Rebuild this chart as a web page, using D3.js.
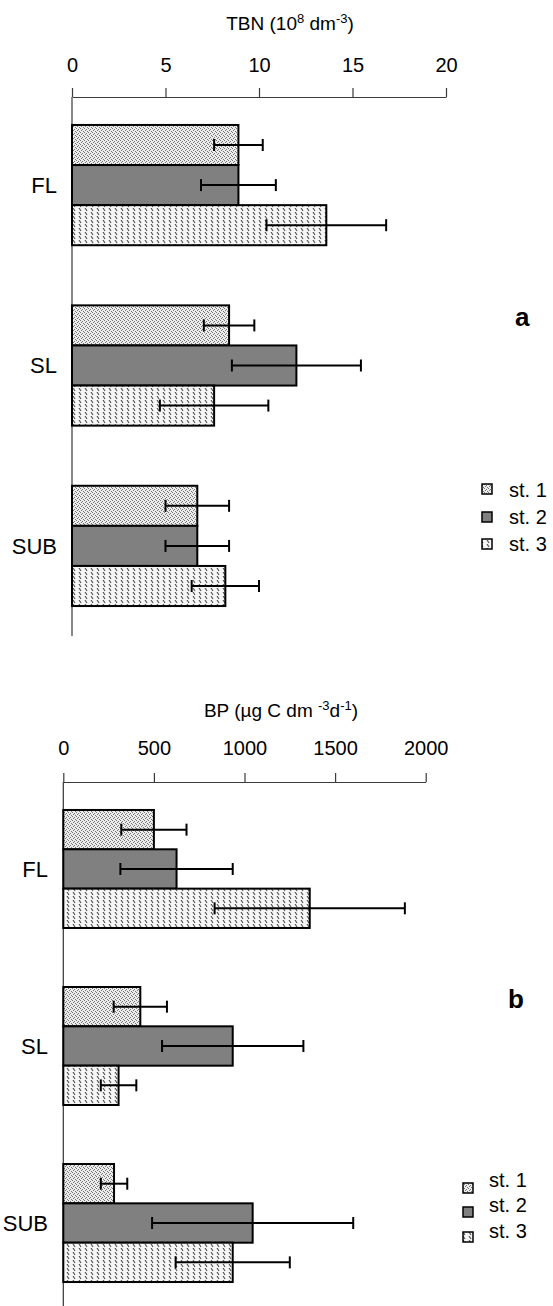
<!DOCTYPE html>
<html>
<head>
<meta charset="utf-8">
<script src="https://cdn.jsdelivr.net/npm/d3@7"></script>
<style>
  body { margin: 0; background: #fff; }
  svg { display: block; font-family: Arial, "Liberation Sans", sans-serif; }
</style>
</head>
<body>
<svg id="chart" width="553" height="1306"></svg>
<script>
// ---------- DATA ----------
const categories = ["FL", "SL", "SUB"];
const seriesNames = ["st. 1", "st. 2", "st. 3"];
const tbnTicks = [0, 5, 10, 15, 20];
const bpTicks = [0, 500, 1000, 1500, 2000];

// TBN (10^8 dm^-3), per station, in category order FL, SL, SUB
const tbnSt1 = [8.9, 8.4, 6.7];
const tbnSt2 = [8.9, 12.0, 6.7];
const tbnSt3 = [13.6, 7.6, 8.2];
const tbnErrSt1 = [1.3, 1.35, 1.7];
const tbnErrSt2 = [2.0, 3.45, 1.7];
const tbnErrSt3 = [3.2, 2.9, 1.8];

// BP (µg C dm^-3 d^-1)
const bpSt1 = [500, 425, 280];
const bpSt2 = [625, 935, 1045];
const bpSt3 = [1360, 305, 935];
const bpErrSt1 = [180, 147, 73];
const bpErrSt2 = [310, 390, 555];
const bpErrSt3 = [525, 98, 315];

// ---------- DRAW ----------
const svg = d3.select("#chart");
const defs = svg.append("defs");

// stipple pattern for st. 1
const p1 = defs.append("pattern").attr("id", "pat1").attr("patternUnits", "userSpaceOnUse")
  .attr("width", 4).attr("height", 4);
p1.append("rect").attr("width", 4).attr("height", 4).attr("fill", "#ececec");
[[0,0],[2,1],[1,2],[3,3]].forEach(([x,y]) =>
  p1.append("rect").attr("x", x).attr("y", y).attr("width", 1).attr("height", 1).attr("fill", "#777"));

// dashed vertical stripes for st. 3
const p3 = defs.append("pattern").attr("id", "pat3").attr("patternUnits", "userSpaceOnUse")
  .attr("width", 6).attr("height", 4);
p3.append("rect").attr("width", 6).attr("height", 4).attr("fill", "#f6f6f6");
p3.append("path").attr("d", "M1,0 L3,3").attr("stroke", "#555").attr("stroke-width", 1.2);

const fills = ["url(#pat1)", "#808080", "url(#pat3)"];

function drawPanel(cfg) {
  const g = svg.append("g");
  const x = d3.scaleLinear().domain([0, cfg.ticks[cfg.ticks.length - 1]]).range([cfg.x0, cfg.x1]);
  const y = d3.scaleBand().domain(categories).range([cfg.yTop, cfg.yBottom])
    .paddingInner(1 / 3).paddingOuter(cfg.outer);
  const ys = d3.scaleBand().domain(seriesNames).range([0, y.bandwidth()]).padding(0);

  // top axis
  const ax = g.append("g").attr("transform", `translate(0,${cfg.yTop})`)
    .call(d3.axisTop(x).tickValues(cfg.ticks).tickSize(9).tickSizeOuter(0).tickPadding(cfg.tickPad)
      .tickFormat(d3.format("d")));
  ax.select(".domain").attr("stroke", "#3a3a3a").attr("stroke-width", 1.2);
  ax.selectAll(".tick line").attr("stroke", "#3a3a3a").attr("stroke-width", 1.2);
  ax.selectAll(".tick text").attr("font-size", 20).attr("fill", "#000")
    .attr("font-family", "Arial, 'Liberation Sans', sans-serif");

  // vertical axis line
  g.append("line").attr("x1", x(0)).attr("x2", x(0)).attr("y1", cfg.yTop).attr("y2", cfg.axisEnd)
    .attr("stroke", cfg.vColor).attr("stroke-width", cfg.vWidth);

  // title
  const t = g.append("text").attr("x", cfg.titleX).attr("y", cfg.titleY)
    .attr("text-anchor", "middle").attr("font-size", 19).attr("fill", "#000");
  cfg.title.forEach(part => {
    const ts = t.append("tspan").text(part.t);
    if (part.sup) ts.attr("font-size", 13).attr("baseline-shift", "super");
  });

  // bars
  const data = [];
  categories.forEach((c, ci) => {
    seriesNames.forEach((s, si) => {
      data.push({ c, s, si, v: cfg.values[si][ci], e: cfg.errors[si][ci] });
    });
  });
  const bars = g.selectAll(".bar").data(data).enter().append("g");
  bars.append("rect")
    .attr("x", x(0))
    .attr("y", d => y(d.c) + ys(d.s))
    .attr("width", d => x(d.v) - x(0))
    .attr("height", ys.bandwidth())
    .attr("fill", d => fills[d.si])
    .attr("stroke", "#000").attr("stroke-width", 2);

  // error bars
  const cap = 6;
  bars.append("line")
    .attr("x1", d => x(d.v - d.e)).attr("x2", d => x(d.v + d.e))
    .attr("y1", d => y(d.c) + ys(d.s) + ys.bandwidth() / 2)
    .attr("y2", d => y(d.c) + ys(d.s) + ys.bandwidth() / 2)
    .attr("stroke", "#000").attr("stroke-width", 2);
  [-1, 1].forEach(sign => {
    bars.append("line")
      .attr("x1", d => x(d.v + sign * d.e)).attr("x2", d => x(d.v + sign * d.e))
      .attr("y1", d => y(d.c) + ys(d.s) + ys.bandwidth() / 2 - cap)
      .attr("y2", d => y(d.c) + ys(d.s) + ys.bandwidth() / 2 + cap)
      .attr("stroke", "#000").attr("stroke-width", 2);
  });

  // category labels
  g.selectAll(".cat").data(categories).enter().append("text")
    .attr("x", cfg.catX)
    .attr("y", d => y(d) + y.bandwidth() / 2)
    .attr("dy", "0.36em")
    .attr("text-anchor", "end").attr("font-size", 22).attr("fill", "#000")
    .text(d => d);

  // panel letter
  g.append("text").attr("x", cfg.letterX).attr("y", cfg.letterY)
    .attr("font-size", 26).attr("font-weight", "bold").attr("fill", "#000").text(cfg.letter);

  // legend
  seriesNames.forEach((s, i) => {
    g.append("rect").attr("x", cfg.legX).attr("y", cfg.legBoxY[i]).attr("width", 10).attr("height", 10)
      .attr("fill", fills[i]).attr("stroke", "#000").attr("stroke-width", 1.5);
    g.append("text").attr("x", cfg.legTextX).attr("y", cfg.legTextY[i])
      .attr("font-size", 20).attr("fill", "#000").text(s);
  });
}

drawPanel({
  ticks: tbnTicks, x0: 72, x1: 446, yTop: 97, yBottom: 634, outer: 0.155, axisEnd: 636,
  tickPad: 16, vColor: "#888", vWidth: 2,
  title: [{ t: "TBN (10" }, { t: "8", sup: true }, { t: " dm" }, { t: "-3", sup: true }, { t: ")" }],
  titleX: 290, titleY: 30,
  values: [tbnSt1, tbnSt2, tbnSt3], errors: [tbnErrSt1, tbnErrSt2, tbnErrSt3],
  catX: 57, letter: "a", letterX: 515, letterY: 326,
  legX: 482, legBoxY: [484, 512, 539], legTextX: 509, legTextY: [497, 524, 551]
});

drawPanel({
  ticks: bpTicks, x0: 63.3, x1: 425.7, yTop: 782, yBottom: 1310, outer: 0.158, axisEnd: 1306,
  tickPad: 18, vColor: "#333", vWidth: 1.2,
  title: [{ t: "BP (µg C dm " }, { t: "-3", sup: true }, { t: "d" }, { t: "-1", sup: true }, { t: ")" }],
  titleX: 281, titleY: 717,
  values: [bpSt1, bpSt2, bpSt3], errors: [bpErrSt1, bpErrSt2, bpErrSt3],
  catX: 48, letter: "b", letterX: 508, letterY: 1008,
  legX: 463, legBoxY: [1183, 1207, 1232], legTextX: 489, legTextY: [1187, 1212, 1238]
});
</script>
</body>
</html>
